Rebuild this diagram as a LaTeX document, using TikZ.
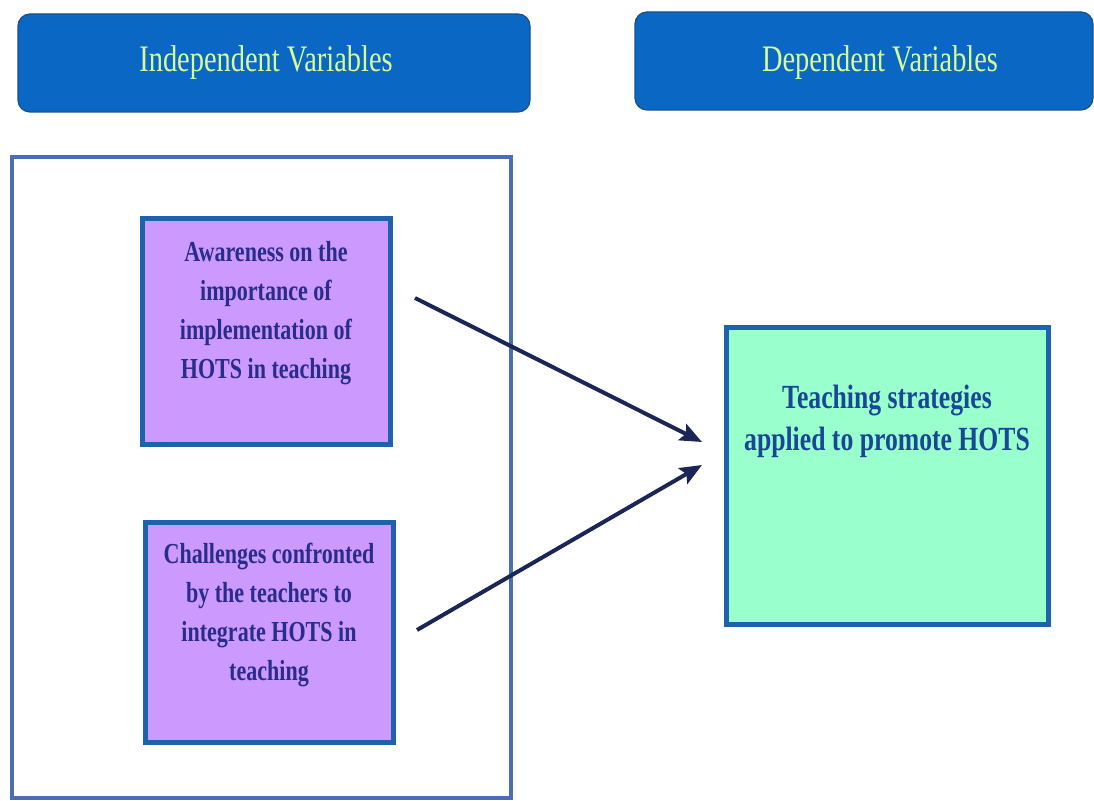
\documentclass[tikz,border=0pt]{standalone}
\usepackage{fontspec}
\setmainfont{Liberation Serif}[FakeStretch=0.76]
\usetikzlibrary{arrows.meta}

\definecolor{headblue}{RGB}{10,104,196}
\definecolor{headtext}{RGB}{214,250,150}
\definecolor{framecol}{RGB}{76,108,180}
\definecolor{boxedge}{RGB}{30,98,174}
\definecolor{lilac}{RGB}{204,153,255}
\definecolor{mint}{RGB}{153,255,204}
\definecolor{navytext}{RGB}{40,44,140}
\definecolor{mintext}{RGB}{26,70,150}
\definecolor{arrowcol}{RGB}{26,38,88}

\tikzset{
  header/.style={fill=headblue, draw=boxedge!80!black, line width=0.6pt,
    rounded corners=6pt, minimum height=49pt, inner sep=0pt},
  headlabel/.style={text=headtext, font=\fontsize{18.7}{21}\selectfont},
  varbox/.style={draw=boxedge, line width=2.5pt, inner sep=0pt},
  ivtext/.style={text=navytext, align=center,
    font=\bfseries\fontsize{14.5}{19.5}\selectfont},
  dvtext/.style={text=mintext, align=center,
    font=\bfseries\fontsize{16.9}{21}\selectfont},
  link/.style={draw=arrowcol, line width=2pt,
    -{Stealth[length=11pt,width=9pt,inset=2pt]}}
}

\begin{document}
\begin{tikzpicture}[x=0.5pt, y=-0.5pt]
  \useasboundingbox (0,0) rectangle (1094,801);

  % headers
  \node[header, minimum width=256pt] (indep) at (274,63) {};
  \node[headlabel] (indeplab) at (266,63) {Independent Variables};
  \node[header, minimum width=229pt] (dep) at (864,61) {};
  \node[headlabel] (deplab) at (880,63) {Dependent Variables};

  % frame round the independent variables
  \draw[framecol, line width=2pt] (12,157) rectangle (511,798);

  % independent variables
  \node[varbox, fill=lilac, minimum width=124pt, minimum height=113pt]
    (aware) at (266,332) {};
  \node[ivtext, anchor=north] (awarelab) at (266,234)
    {Awareness on the\\ importance of\\ implementation of\\ HOTS in teaching};

  \node[varbox, fill=lilac, minimum width=124pt, minimum height=110pt]
    (chall) at (269,633) {};
  \node[ivtext, anchor=north] (challlab) at (269,536)
    {Challenges confronted\\ by the teachers to\\ integrate HOTS in\\ teaching};

  % dependent variable
  \node[varbox, fill=mint, minimum width=161pt, minimum height=148.5pt]
    (strat) at (887,476.5) {};
  \node[dvtext, anchor=north] (stratlab) at (887,378)
    {Teaching strategies\\ applied to promote HOTS};

  % links
  \coordinate (awareout) at (415,298);
  \coordinate (challout) at (417,630);
  \coordinate (stratin1) at (702,442);
  \coordinate (stratin2) at (702,465);
  \draw[link] (awareout) -- (stratin1);
  \draw[link] (challout) -- (stratin2);
\end{tikzpicture}
\end{document}
